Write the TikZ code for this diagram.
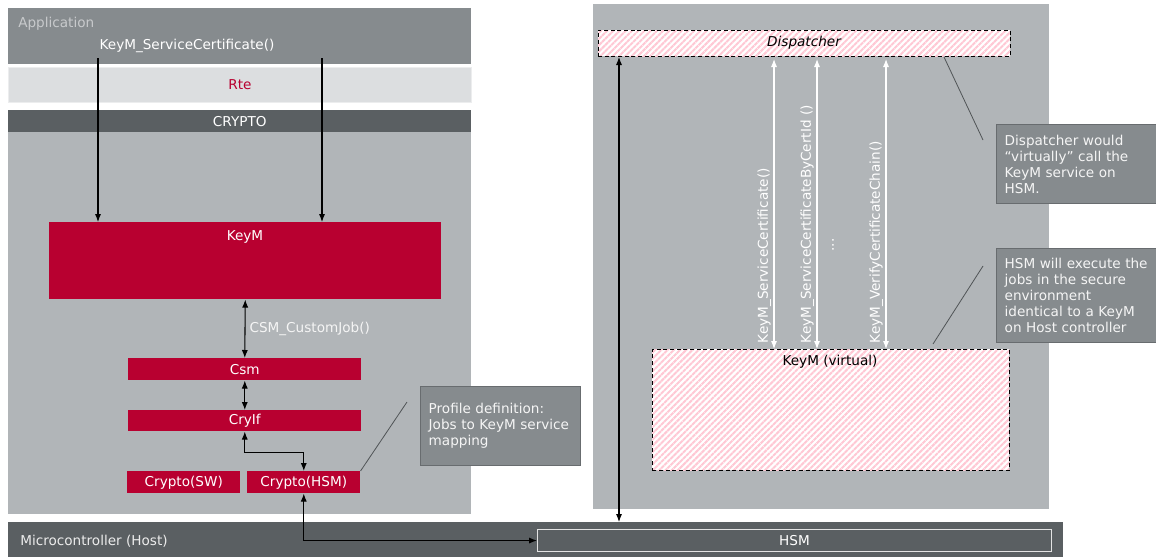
\documentclass[tikz,border=0pt]{standalone}
\usepackage{fontspec}
\setmainfont{DejaVu Sans}
\usetikzlibrary{arrows.meta,patterns.meta}

\definecolor{keyred}{RGB}{184,0,48}
\definecolor{appgray}{RGB}{134,139,142}
\definecolor{apptext}{RGB}{200,202,204}
\definecolor{rtegray}{RGB}{220,222,224}
\definecolor{rteedge}{RGB}{236,237,238}
\definecolor{hostgray}{RGB}{90,95,98}
\definecolor{panelgray}{RGB}{177,181,184}
\definecolor{noteedge}{RGB}{104,108,111}
\definecolor{leadgray}{RGB}{80,84,86}
\definecolor{hatchpink}{RGB}{255,200,212}

\begin{document}
\begin{tikzpicture}[x=0.75pt,y=-0.75pt,
  >={Latex[length=6pt,width=4.6pt]},
  every node/.style={font=\fontsize{10.2}{12}\selectfont, inner sep=0pt},
  layer/.style={rectangle, anchor=north west, minimum width=347.25pt},
  redbox/.style={rectangle, anchor=north west, fill=keyred, text=white},
  hatchbox/.style={rectangle, anchor=north west, draw=black, dash pattern=on 3pt off 2pt,
    line width=0.7pt, preaction={fill=white},
    pattern={Lines[angle=45,distance=3.3pt,line width=1.5pt]}, pattern color=hatchpink},
  notebox/.style={rectangle, anchor=north west, fill=appgray, draw=noteedge, line width=1pt,
    text=white!92!gray, align=left, text width=108pt, inner xsep=6pt,
    minimum width=120pt},
  leader/.style={draw=leadgray, line width=0.6pt},
  flow/.style={line width=0.8pt, <->}
  ]
  \useasboundingbox (0,0) rectangle (1156,557);

  % Draw the host side layers
  \node[layer, fill=appgray, minimum height=42pt] (app) at (8,8) {};
  \node[anchor=west, text=apptext] (applbl) at (18,24) {Application};
  \node[text=white] (svc) at (187,46) {KeyM\_ServiceCertificate()};
  \node[layer, fill=rtegray, draw=rteedge, line width=0.8pt, minimum height=26.25pt,
    text=keyred] (rte) at (8,67) {Rte};
  \node[layer, fill=hostgray, minimum height=16.5pt, text=white] (cryhead) at (8,110) {CRYPTO};
  \node[layer, fill=panelgray, minimum height=286.5pt] (crybody) at (8,132) {};

  % Draw the crypto stack
  \node[redbox, minimum width=294pt, minimum height=57.75pt] (keym) at (49,222) {};
  \node[text=white] (keymlbl) at (245,237) {KeyM};
  \node[redbox, minimum width=174.75pt, minimum height=16.5pt] (csm) at (128,358) {Csm};
  \node[redbox, minimum width=174.75pt, minimum height=15.75pt] (cryif) at (128,410) {CryIf};
  \node[redbox, minimum width=84.75pt, minimum height=16.5pt] (drvsw) at (127,471) {Crypto(SW)};
  \node[redbox, minimum width=84.75pt, minimum height=16.5pt] (drvhsm) at (247,471) {Crypto(HSM)};

  % Draw the HSM side
  \node[rectangle, anchor=north west, fill=panelgray, minimum width=342pt,
    minimum height=378.75pt] (hsmside) at (593,4) {};
  \node[hatchbox, minimum width=309pt, minimum height=19.5pt,
    font=\fontsize{10.2}{12}\selectfont\itshape] (disp) at (597,29) {Dispatcher};
  \node[hatchbox, minimum width=267.75pt, minimum height=90.75pt] (vkeym) at (652,349) {};
  \node (vkeymlbl) at (830,362) {KeyM (virtual)};

  % Draw the microcontroller bar
  \node[rectangle, anchor=north west, fill=hostgray, minimum width=791.25pt,
    minimum height=26.25pt] (mcu) at (8,522) {};
  \node[anchor=west, text=white!85!gray] (mculbl) at (20,541) {Microcontroller (Host)};
  \node[rectangle, anchor=north west, draw=white!78!gray, line width=0.8pt,
    minimum width=385.5pt, minimum height=16.5pt, text=white] (hsm) at (537,529) {HSM};

  % Draw the notes
  \node[notebox, minimum height=59.25pt] (noteprof) at (420,386)
    {Profile definition:\\Jobs to KeyM service\\mapping};
  \node[notebox, minimum height=59.25pt] (notedisp) at (996,124)
    {Dispatcher would\\``virtually'' call the\\KeyM service on\\HSM.};
  \node[notebox, minimum height=70.5pt] (notehsm) at (996,248)
    {HSM will execute the\\jobs in the secure\\environment\\identical to a KeyM\\on Host controller};

  % Draw calls from the application
  \coordinate (call1) at (98,58);
  \coordinate (call2) at (322,58);
  \draw[line width=0.8pt, ->] (call1) -- (call1 |- keym.north);
  \draw[line width=0.8pt, ->] (call2) -- (call2 |- keym.north);

  % Draw the stack connections
  \draw[flow] (keym.south) -- (csm.north)
    node[midway, right=3pt, text=white!92!gray] (jobcall) {CSM\_CustomJob()};
  \draw[flow] (csm.south) -- (cryif.north);
  \draw[flow] (cryif.south) -- ++(0,21) -| (drvhsm.north);
  \draw[flow] (drvhsm.south) |- (hsm.west);
  \draw[flow] ([xshift=16.5pt]disp.south west) -- ([xshift=16.5pt]disp.south west |- mcu.north);

  % Draw the virtual service calls
  \foreach \x/\txt [count=\i] in {774/KeyM\_ServiceCertificate(),
                                  817/KeyM\_ServiceCertificateByCertId (),
                                  886/KeyM\_VerifyCertificateChain()} {
    \draw[flow, white, shorten <=1.5pt] (\x,0 |- disp.south) -- (\x,0 |- vkeym.north);
    \node[rotate=90, anchor=south west, inner sep=2pt, text=white] (svc\i)
      at (\x,346) {\txt};
  }
  \node[rotate=90, text=white] (moresvc) at (833,245) {...};

  % Draw the note leaders
  \draw[leader] (drvhsm.north east) -- (407,402);
  \draw[leader] (944,57) -- (983,140);
  \draw[leader] (933,344) -- (983,266);

\end{tikzpicture}
\end{document}
